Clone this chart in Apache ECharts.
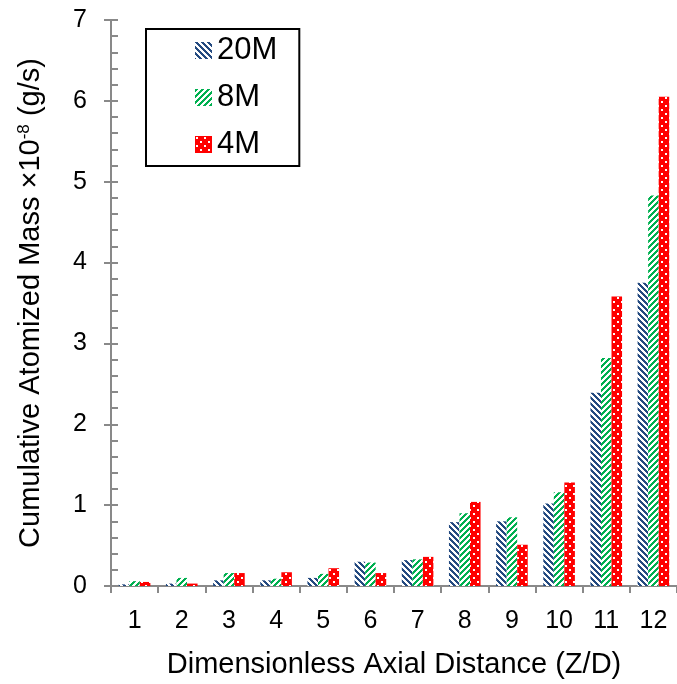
<!DOCTYPE html>
<html>
<head>
<meta charset="utf-8">
<script src="https://cdn.jsdelivr.net/npm/echarts@6/dist/echarts.min.js"></script>
<style>
  html, body { margin: 0; padding: 0; background: #fff; }
  #chart { width: 677px; height: 684px; }
</style>
</head>
<body>
<div id="chart"></div>
<script>
// Axial stations (Z/D) and cumulative atomized mass per mesh resolution (x10^-8 g/s)
const categories = ['1', '2', '3', '4', '5', '6', '7', '8', '9', '10', '11', '12'];
const seriesNames = ['20M', '8M', '4M'];
const mass20M = [0.02, 0.03, 0.07, 0.07, 0.10, 0.30, 0.32, 0.79, 0.80, 1.02, 2.39, 3.75];
const mass8M  = [0.06, 0.10, 0.16, 0.09, 0.15, 0.29, 0.33, 0.90, 0.85, 1.16, 2.82, 4.83];
const mass4M  = [0.05, 0.03, 0.16, 0.17, 0.22, 0.16, 0.36, 1.04, 0.51, 1.28, 3.58, 6.05];
const yTicks = { min: 0, max: 7, interval: 1 };

const FONT = '"Liberation Sans", Arial, sans-serif';
const AXIS_GREY = '#898989';

// Hatched fill: diagonal stripes on white
function stripeFill(color, dir) {
  const n = 6;
  const c = document.createElement('canvas');
  c.width = n; c.height = n;
  const ctx = c.getContext('2d');
  ctx.fillStyle = '#fff';
  ctx.fillRect(0, 0, n, n);
  ctx.fillStyle = color;
  for (let y = 0; y < n; y++) {
    for (let x = 0; x < n; x++) {
      const k = dir > 0 ? ((x - y) % n + n) % n : (x + y) % n;
      if (k < 3) ctx.fillRect(x, y, 1, 1);
    }
  }
  return { image: c, repeat: 'repeat' };
}

// Dotted fill: white dots on solid colour, staggered rows
function dotFill(color) {
  const n = 8;
  const c = document.createElement('canvas');
  c.width = n; c.height = n;
  const ctx = c.getContext('2d');
  ctx.fillStyle = color;
  ctx.fillRect(0, 0, n, n);
  ctx.fillStyle = '#fff';
  ctx.fillRect(1, 1, 2, 2);
  ctx.fillRect(5, 5, 2, 2);
  return { image: c, repeat: 'repeat' };
}

const fills = [stripeFill('#244A80', 1), stripeFill('#00B050', -1), dotFill('#FF0000')];
const values = [mass20M, mass8M, mass4M];

const chart = echarts.init(document.getElementById('chart'), null, { renderer: 'canvas' });

chart.setOption({
  animation: false,
  backgroundColor: '#fff',
  textStyle: { fontFamily: FONT },
  grid: { left: 111, right: -4, top: 20, bottom: 97 },
  legend: {
    data: seriesNames,
    orient: 'vertical',
    left: 146,
    top: 29,
    padding: [6, 22, 6, 49],
    itemGap: 16,
    itemWidth: 17,
    itemHeight: 17,
    icon: 'rect',
    borderColor: '#000',
    borderWidth: 2,
    textStyle: { fontSize: 31, color: '#000', fontFamily: FONT }
  },
  xAxis: {
    type: 'category',
    data: categories,
    name: 'Dimensionless Axial Distance (Z/D)',
    nameLocation: 'middle',
    nameGap: 64,
    nameTextStyle: { fontSize: 29, color: '#000', fontFamily: FONT },
    axisLine: { lineStyle: { color: AXIS_GREY, width: 2 } },
    axisTick: { show: true, length: 7, lineStyle: { color: AXIS_GREY, width: 2 } },
    axisLabel: { margin: 23, fontSize: 25, color: '#000', fontFamily: FONT }
  },
  yAxis: [
    {
      type: 'value',
      min: yTicks.min,
      max: yTicks.max,
      interval: yTicks.interval,
      name: '{b|Cumulative Atomized Mass ×10}{s|-8}{b| (g/s)}',
      nameLocation: 'middle',
      nameRotate: 90,
      nameGap: 66,
      nameTextStyle: {
        color: '#000',
        rich: {
          b: { fontSize: 29, color: '#000', fontFamily: FONT },
          s: { fontSize: 17, color: '#000', fontFamily: FONT, verticalAlign: 'top', padding: [0, 0, 12, 0] }
        }
      },
      axisLine: { show: true, lineStyle: { color: AXIS_GREY, width: 2 } },
      axisTick: { show: true, length: 7, lineStyle: { color: AXIS_GREY, width: 2 } },
      axisLabel: { margin: 24, fontSize: 25, color: '#000', fontFamily: FONT },
      splitLine: { show: false }
    },
    {
      // inner tick set: major + minor marks on the plot side of the axis
      type: 'value',
      position: 'left',
      min: yTicks.min,
      max: yTicks.max,
      interval: yTicks.interval,
      axisLine: { show: false },
      axisLabel: { show: false },
      axisTick: { show: true, inside: true, length: 7, lineStyle: { color: AXIS_GREY, width: 2 } },
      minorTick: { show: true, splitNumber: 5, length: 7, lineStyle: { color: AXIS_GREY, width: 2 } },
      splitLine: { show: false },
      minorSplitLine: { show: false }
    }
  ],
  series: seriesNames.map((name, i) => ({
    name: name,
    type: 'bar',
    yAxisIndex: 0,
    data: values[i],
    barGap: '0%',
    barCategoryGap: '33%',
    itemStyle: { color: fills[i] }
  }))
});
</script>
</body>
</html>
